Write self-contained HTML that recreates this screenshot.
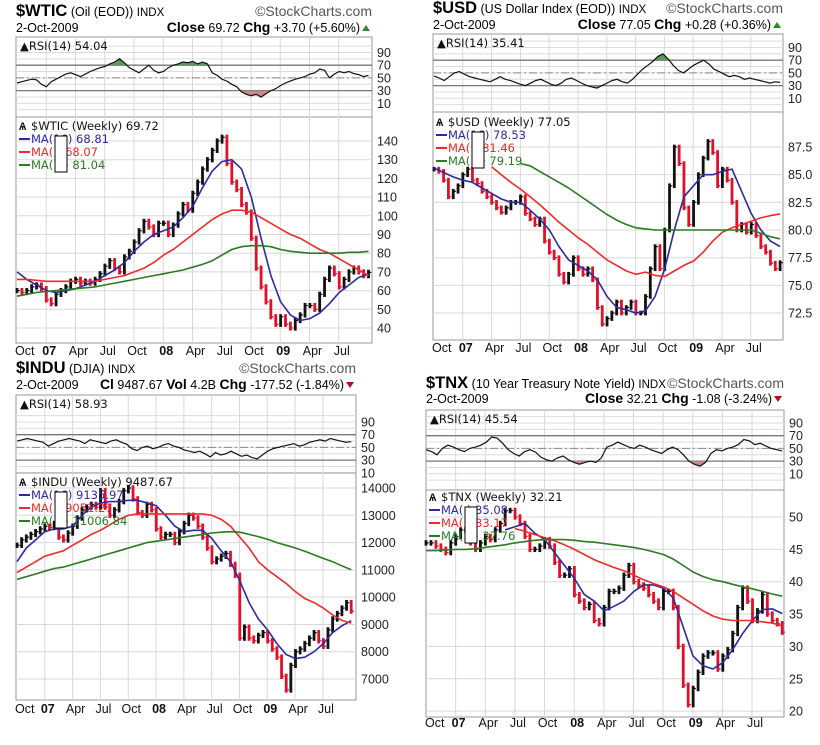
<!DOCTYPE html>
<html><head><meta charset="utf-8">
<style>
html,body{margin:0;padding:0;background:#fff;}
svg{display:block;font-family:"Liberation Sans",sans-serif;}
.leg{font-family:"DejaVu Sans",sans-serif;font-size:11.5px;}
</style></head>
<body>
<svg id="root" width="820" height="745" viewBox="0 0 820 745" xmlns="http://www.w3.org/2000/svg">
<rect width="820" height="745" fill="#fff"/>
</svg>
<script>
// ---- shared axis labels ----
const monthLabels = ["Oct","07","Apr","Jul","Oct","08","Apr","Jul","Oct","09","Apr","Jul"];
const rsiTicks = [10,30,50,70,90];

// ---- $WTIC ----
const wticClose = [60,59,60,62,63,61,55,53,58,60,62,65,66,64,65,64,66,69,73,76,72,70,78,81,86,92,97,94,90,96,96,90,95,101,106,103,112,118,125,130,135,140,142,128,118,114,106,102,88,72,62,54,46,42,46,42,40,44,47,52,52,50,58,66,72,69,62,66,70,72,70,68,69.72];
const wticMA1 = [70,66,63,60,59,60,61,63,65,68,71,75,81,86,90,92,94,99,105,115,124,129,130,125,110,88,68,54,47,44,45,48,53,59,63,67,69];
const wticMA2 = [66,66,65.5,65,65,65,65,65,65,66,67,68,70,72,75,79,82,86,90,94,98,101,103,103,102,99,96,93,90,88,85,82,80,77,74,71,68];
const wticMA3 = [57,58,59,59.5,60,60.5,61,61.5,62,63,64,65,66,67,68,69,70,71,72.5,74,76,79,82,83.5,84,84,83.5,82,81,80.5,80,80,80,80,80.5,80.5,81];
const wticRSI = [42,44,46,48,47,40,36,44,48,52,56,58,55,52,56,60,63,66,68,72,75,80,74,66,62,58,64,70,62,58,60,66,70,72,75,74,76,72,75,72,58,54,48,45,40,36,28,24,22,24,20,25,30,33,38,42,45,48,50,52,56,58,64,62,50,56,60,58,60,57,55,52,54];
const wticTicks = [40,50,60,70,80,90,100,110,120,130,140];

// ---- $USD ----
const usdClose = [85.5,85.3,84.5,83,83.5,84,85,85.5,84.5,84.2,83.5,83,82.5,82,81.6,82,82.5,82.5,83,81.5,81,80.5,81,79,78,77.5,76,75.3,76,77.5,76.5,76,76.5,75.5,73,71.5,72,72.5,73.5,72.5,73,73.5,72.5,72.5,74,76.5,78.5,76.5,80,84,87.5,86,82,80.5,82.5,85,86.5,88,87,84,85.5,84.5,82.5,80,80.5,79.8,80.5,79.5,78.5,78,77,76.5,77.05];
const usdMA1 = [85.6,85.2,84.8,84.5,84.3,83.8,83.3,82.8,82.5,82.5,81.8,81,80,78.5,77.3,76.8,76.3,75.5,74,73,72.8,72.5,72.7,74,76.5,80,83,84,85,85,85.3,85.5,83.5,81.5,80,79,78.5];
const usdMA2 = [null,null,null,null,null,null,85.7,85,84.3,83.7,83,82.3,81.5,80.7,80,79.3,78.7,78,77.3,76.8,76.3,76,76.2,75.9,75.8,76.3,76.8,77.2,78,79,79.8,80.2,80.5,80.8,81.1,81.3,81.46];
const usdMA3 = [null,null,null,null,null,null,null,null,null,86,85.8,85.3,84.8,84.3,83.8,83.2,82.6,82,81.4,80.9,80.5,80.2,80.1,80,80,80,80,80,80,80,80,80,80,80,79.7,79.4,79.2];
const usdRSI = [45,42,38,44,50,52,48,44,42,40,38,36,40,44,40,38,35,32,30,34,38,40,36,32,30,34,40,42,38,34,30,28,26,30,34,38,40,36,34,40,48,56,62,68,76,80,72,62,54,50,56,62,66,70,64,56,52,48,44,46,44,40,42,40,38,36,34,36,35];
const usdTicks = [72.5,75,77.5,80,82.5,85,87.5];

// ---- $INDU ----
const induClose = [11900,12100,12200,12300,12400,12500,12600,12550,12700,12200,12100,12350,12600,12900,13200,13300,13400,13300,13900,13300,13000,13200,13500,13900,14000,13600,13100,13000,13400,13200,12500,12200,12300,12300,12000,12400,12700,13000,12900,12600,12200,11800,11300,11400,11500,11600,11200,10800,8500,8900,8500,8400,8600,8700,8400,8100,7800,7100,6600,7500,8000,8100,8300,8500,8700,8400,8200,8800,9200,9400,9600,9800,9487.67];
const induMA1 = [11300,11800,12100,12400,12500,12500,12600,13000,13300,13450,13500,13500,13550,13550,13450,13350,13000,12600,12400,12450,12450,12150,11700,11300,10600,9800,9200,8800,8300,7900,7750,7800,8000,8300,8700,8950,9136];
const induMA2 = [10900,11100,11300,11500,11600,11700,11900,12100,12300,12450,12650,12850,13000,13050,13050,13050,13050,13050,13050,13050,13050,13000,12850,12600,12200,11800,11300,11000,10750,10500,10200,9950,9800,9600,9350,9150,9051];
const induMA3 = [10650,10750,10850,10950,11050,11100,11200,11300,11400,11500,11600,11700,11800,11900,12000,12050,12100,12150,12200,12250,12300,12350,12380,12400,12380,12300,12220,12120,12000,11900,11800,11680,11550,11420,11300,11150,11007];
const induRSI = [60,62,64,62,60,58,52,56,60,62,64,62,60,56,62,60,58,56,60,62,58,55,48,45,50,52,48,50,54,56,52,50,46,44,42,44,40,35,42,38,40,44,40,36,38,34,32,38,44,48,50,52,54,56,52,54,58,60,62,60,64,62,60,58,59];
const induTicks = [7000,8000,9000,10000,11000,12000,13000,14000];

// ---- $TNX ----
const tnxClose = [46,46,45.5,45,44.5,46,47,48,48,46,45,46,47,46.5,48,49,51,51,50,49,47,45,45,45.5,46.5,45.5,43,41,41,42,38,37,36,36.5,34,33.5,36,38.5,38.5,39,41,42.5,40,39.5,39,38,37,36,38.5,38.5,36,30,24,21,23.5,26,28.5,29,29,26.5,28.5,29.5,32,36,39,37,34,35.5,38,35,34,33.5,32.21];
const tnxMA1 = [null,null,null,null,null,null,null,null,48,48.5,49,47.5,46.5,44.5,42.5,40.5,38,37,35.5,36.2,37,38.5,39.5,39.5,39,37.5,33,28.5,27,26.5,27.5,29.5,32,34,35.7,35.8,35.08];
const tnxMA2 = [null,null,null,null,null,null,null,null,null,48.2,47.8,47.3,46.8,46.3,45.7,45,44.2,43.4,42.8,42.2,41.7,41,40.3,39.7,39.2,38.5,37.5,36.5,35.5,34.7,34.2,34,34,34,33.8,33.6,33.17];
const tnxMA3 = [44.8,44.8,44.9,45,45,45.1,45.3,45.5,45.7,46,46.2,46.4,46.5,46.5,46.5,46.4,46.2,46.1,45.9,45.7,45.5,45.3,45,44.6,44.2,43.5,42.5,41.5,40.8,40.3,40,39.6,39.2,38.9,38.5,38.1,37.76];
const tnxRSI = [48,45,40,50,55,52,48,45,50,52,55,60,68,66,58,48,42,38,45,48,44,36,32,30,35,38,32,28,25,28,30,28,35,52,55,60,56,52,50,55,52,48,45,42,48,52,48,40,30,25,22,28,42,48,46,50,52,56,64,62,56,58,54,50,48,46];
const tnxTicks = [20,25,30,35,40,45,50];

const NS = "http://www.w3.org/2000/svg";
const root = document.getElementById("root");
function mk(tag, attrs, parent){
  const e = document.createElementNS(NS, tag);
  for (const k in attrs) e.setAttribute(k, attrs[k]);
  (parent||root).appendChild(e);
  return e;
}

const panels = [
 {id:"wtic", close:wticClose, ma:[wticMA1,wticMA2,wticMA3], rsi:wticRSI, ticks:wticTicks, dec:0,
  left:16,right:372,rsiTop:37,rsiBot:117,priceBot:343,rsi90:52.5,yRef:140,yRefPx:141,pxPerUnit:1.87,x0:17,mPx:9.75,
  titleY:16,dateY:32,labY:355,
  sym:"$WTIC",desc:" (Oil (EOD)) ",tail:"INDX",quote:[["Close",1]," 69.72 ",["Chg",1]," +3.70 (+5.60%) "],up:true,
  rsiVal:"54.04",legTitle:"$WTIC (Weekly) 69.72",maLab:["MA(16) 68.81","MA(  ) 68.07","MA( 8) 81.04"],legY:126},
 {id:"usd", close:usdClose, ma:[usdMA1,usdMA2,usdMA3], rsi:usdRSI, ticks:usdTicks, dec:1,
  left:433,right:783,rsiTop:34,rsiBot:112,priceBot:340,rsi90:47.5,yRef:87.5,yRefPx:147,pxPerUnit:11.07,x0:434,mPx:9.6,
  titleY:13,dateY:29,labY:352,
  sym:"$USD",desc:" (US Dollar Index (EOD)) ",tail:"INDX",quote:[["Close",1]," 77.05 ",["Chg",1]," +0.28 (+0.36%) "],up:true,
  rsiVal:"35.41",legTitle:"$USD (Weekly) 77.05",maLab:["MA(16) 78.53","MA(  ) 81.46","MA( 8) 79.19"],legY:122},
 {id:"indu", close:induClose, ma:[induMA1,induMA2,induMA3], rsi:induRSI, ticks:induTicks, dec:0,
  left:16,right:356,rsiTop:395,rsiBot:473,priceBot:700,rsi90:422,yRef:14000,yRefPx:488,pxPerUnit:0.02729,x0:17,mPx:9.27,
  titleY:373,dateY:389,labY:713,
  sym:"$INDU",desc:" (DJIA) ",tail:"INDX",quote:[["Cl",1]," 9487.67 ",["Vol",1]," 4.2B ",["Chg",1]," -177.52 (-1.84%) "],up:false,
  rsiVal:"58.93",legTitle:"$INDU (Weekly) 9487.67",maLab:["MA(16) 9135.97","MA(  ) 9051.27","MA( 8) 11006.84"],legY:482},
 {id:"tnx", close:tnxClose, ma:[tnxMA1,tnxMA2,tnxMA3], rsi:tnxRSI, ticks:tnxTicks, dec:0,
  left:426,right:784,rsiTop:410,rsiBot:490,priceBot:717,rsi90:423,yRef:50,yRefPx:517,pxPerUnit:6.47,x0:426,mPx:9.88,
  titleY:388,dateY:403,labY:727,
  sym:"$TNX",desc:" (10 Year Treasury Note Yield) ",tail:"INDX",quote:[["Close",1]," 32.21 ",["Chg",1]," -1.08 (-3.24%) "],up:false,
  rsiVal:"45.54",legTitle:"$TNX (Weekly) 32.21",maLab:["MA(  ) 35.08","MA(  ) 33.17","MA( 8) 37.76"],legY:497}
];

const maColors = ["#2b2b9e","#ee2a2a","#2c7a22"];
const END_M = 36.05;

panels.forEach(P => {
  const g = mk("g", {});
  
  
  const xM = m => P.x0 + m*P.mPx;
  const yP = v => P.yRefPx + (P.yRef - v)*P.pxPerUnit;
  const yR = v => P.rsi90 + (90 - v)*0.635;
  const W = P.right - P.left;

  // header
  const t = mk("text", {x:P.left, y:P.titleY, "font-size":12, fill:"#000"}, g);
  
  
  const s1 = mk("tspan", {"font-size":16.5, "font-weight":"bold"}, t); s1.textContent = P.sym;
  const s2 = mk("tspan", {"font-size":12.5}, t); s2.textContent = P.desc;
  const s3 = mk("tspan", {"font-size":11.5}, t); s3.textContent = P.tail;
  const sc = mk("text", {x:P.right, y:P.titleY, "text-anchor":"end", "font-size":14, fill:"#555"}, g);
  
  
  sc.textContent = "\u00A9StockCharts.com";
  const dt = mk("text", {x:P.left, y:P.dateY, "font-size":12.5, fill:"#000"}, g);
  
  
  dt.textContent = "2-Oct-2009";
  const q = mk("text", {x:P.right-12, y:P.dateY, "text-anchor":"end", "font-size":12.5, fill:"#000"}, g);
  
  
  P.quote.forEach(part => {
    const sp = mk("tspan", {}, q);
    if (Array.isArray(part)) { sp.setAttribute("font-weight","bold"); sp.setAttribute("font-size","14"); sp.textContent = part[0]; }
    else sp.textContent = part;
  });
  const ar = mk("path", {d: P.up ? `M${P.right-10},${P.dateY-1} l4,-6 l4,6z` : `M${P.right-10},${P.dateY-7} l4,6 l4,-6z`, fill: P.up ? "#2a8a2a" : "#b01020"}, g);
  
  

  // RSI box
  const rb = mk("rect", {x:P.left, y:P.rsiTop, width:W, height:P.rsiBot-P.rsiTop, fill:"#fff", stroke:"#999"}, g);
  
  
  for (let v=0; v<=100; v+=10) {
    const yy = yR(v);
    if (yy < P.rsiTop || yy > P.rsiBot) continue;
    const l = mk("line", {x1:P.left, x2:P.right, y1:yy, y2:yy, stroke:"#dcdcdc"}, g);
    
    
  }
  // price box
  const pb = mk("rect", {x:P.left, y:P.rsiBot, width:W, height:P.priceBot-P.rsiBot, fill:"#fff", stroke:"#999"}, g);
  
  
  P.ticks.forEach(v => {
    const yy = yP(v);
    const l = mk("line", {x1:P.left, x2:P.right, y1:yy, y2:yy, stroke:"#d8d8d8"}, g);
    
    
    const tl = mk("text", {x:P.right+5, y:yy+4.5, "font-size":12.5, fill:"#222"}, g);
    
    
    tl.textContent = v.toFixed(P.dec);
  });
  // vertical gridlines + x labels
  monthLabels.forEach((lab, i) => {
    const m = i*3, xx = xM(m);
    if (i > 0) {
      const vl = mk("line", {x1:xx, x2:xx, y1:P.rsiTop, y2:P.priceBot, stroke:"#d8d8d8"}, g);
      
      
    }
    const isYr = /\d/.test(lab);
    const tx = mk("text", {x: i===0 ? P.left-1 : xx+3, y:P.labY, "text-anchor": i===0 ? "start" : "middle", "font-size":12.5, "font-weight": isYr ? "bold":"normal", fill:"#111"}, g);
    
    
    tx.textContent = lab;
  });
  // RSI ticks
  rsiTicks.forEach(v => {
    const tl = mk("text", {x:P.right+5, y:yR(v)+4.5, "font-size":12.5, fill:"#222"}, g);
    
    
    tl.textContent = v;
  });
  [70,30].forEach(v => {
    const l = mk("line", {x1:P.left, x2:P.right, y1:yR(v), y2:yR(v), stroke:"#777", "stroke-width":1.3}, g);
    
    
  });
  const l50 = mk("line", {x1:P.left, x2:P.right, y1:yR(50), y2:yR(50), stroke:"#888", "stroke-dasharray":"8,3,2,3"}, g);
  
  

  // RSI line + fills
  const nR = P.rsi.length;
  const rPts = P.rsi.map((v,i) => [xM(i/(nR-1)*END_M), yR(v)]);
  const ptsStr = rPts.map(p => p[0].toFixed(1)+","+p[1].toFixed(1)).join(" ");
  const cidA = P.id+"-clipA", cidB = P.id+"-clipB";
  const defs = mk("defs", {}, g);
  const cA = mk("clipPath", {id:cidA}, defs); mk("rect", {x:P.left, y:P.rsiTop, width:W, height:yR(70)-P.rsiTop}, cA);
  const cB = mk("clipPath", {id:cidB}, defs); mk("rect", {x:P.left, y:yR(30), width:W, height:P.rsiBot-yR(30)}, cB);
  const fa = mk("polygon", {points: `${rPts[0][0]},${yR(70)} ${ptsStr} ${rPts[nR-1][0]},${yR(70)}`, fill:"#5b9a5b", "clip-path":`url(#${cidA})`}, g);
  
  
  const fb = mk("polygon", {points: `${rPts[0][0]},${yR(30)} ${ptsStr} ${rPts[nR-1][0]},${yR(30)}`, fill:"#c98a8a", "clip-path":`url(#${cidB})`}, g);
  
  
  const rl = mk("polyline", {points: ptsStr, fill:"none", stroke:"#111", "stroke-width":1.2}, g);
  
  
  const rt = mk("text", {x:P.left+4, y:P.rsiTop+13, fill:"#111", class:"leg"}, g);
  
  
  rt.textContent = "\u25B2RSI(14) " + P.rsiVal;

  // price bars
  const n = P.close.length;
  const span = (P.ticks[P.ticks.length-1]-P.ticks[0]);
  for (let i=0;i<n;i++){
    const c = P.close[i], p = i>0 ? P.close[i-1] : c;
    const xx = xM(i/(n-1)*END_M);
    const hi = Math.max(c,p) + span*0.014, lo = Math.min(c,p) - span*0.014;
    const col = c >= p ? "#111" : "#e0102a";
    const b = mk("line", {x1:xx, x2:xx, y1:yP(hi), y2:yP(lo), stroke:col, "stroke-width":2.8}, g);
    
    
    const tk = mk("line", {x1:xx, x2:xx+2.8, y1:yP(c), y2:yP(c), stroke:col, "stroke-width":1.2}, g);
    
    
  }
  // MA lines
  P.ma.forEach((arr, k) => {
    const nm = arr.length;
    const pts = [];
    arr.forEach((v,i) => { if (v !== null) pts.push(xM(i/(nm-1)*END_M).toFixed(1)+","+yP(v).toFixed(1)); });
    const pl = mk("polyline", {points: pts.join(" "), fill:"none", stroke:maColors[k], "stroke-width":1.6, "stroke-linejoin":"round"}, g);
    
    
  });
  // legend
  const lt = mk("text", {x:P.left+15, y:P.legY+4, class:"leg", fill:"#111"}, g);
  
  
  lt.textContent = P.legTitle;
  const ic = mk("text", {x:P.left+3, y:P.legY+4, "font-size":11, fill:"#111", "font-weight":"bold"}, g);
  
  
  ic.textContent = "\u0466";
  P.maLab.forEach((lab, k) => {
    const yy = P.legY + 13*(k+1);
    const ln = mk("line", {x1:P.left+3, x2:P.left+14, y1:yy, y2:yy, stroke:maColors[k], "stroke-width":2}, g);
    
    
    const tx = mk("text", {x:P.left+15, y:yy+4, class:"leg", fill:maColors[k]}, g);
    
    
    tx.textContent = lab;
  });
  const wb = mk("rect", {x:P.left+39, y:P.legY+10, width:12, height:36, fill:"#fff", stroke:"#000", "stroke-width":1}, g);
  
  
});
</script>
</body></html>
